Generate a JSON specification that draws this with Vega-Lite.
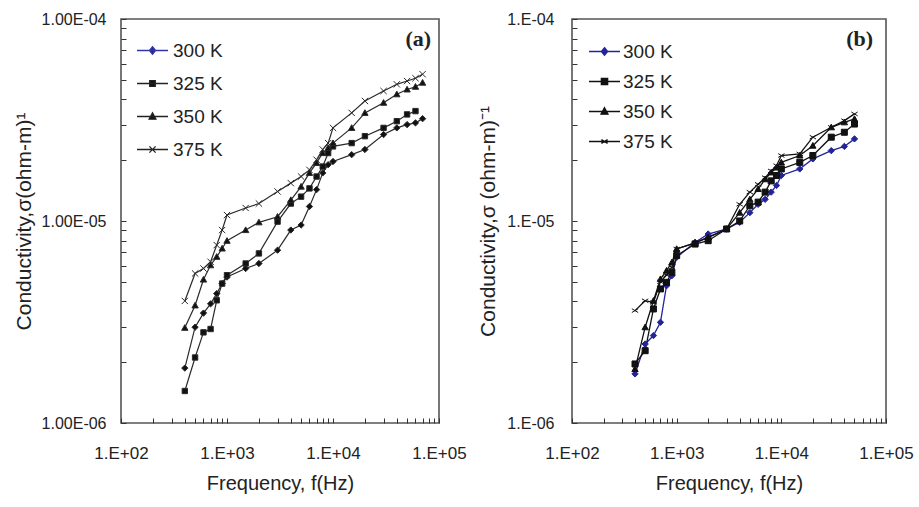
{
 "$schema": "https://vega.github.io/schema/vega-lite/v6.json",
 "background": "white",
 "padding": {"left": 12, "top": 10, "right": 5, "bottom": 5},
 "config": {
  "view": {"stroke": "#555", "strokeWidth": 1.6},
  "font": "Liberation Sans",
  "axis": {"grid": false, "domain": false, "tickSize": -5, "tickColor": "#333", "tickWidth": 1, "labelColor": "#222", "titleColor": "#222", "titleFontWeight": "normal", "labelFontSize": 16, "titleFontSize": 21, "labelOverlap": false, "labelFlush": false},
  "axisX": {"labelFontSize": 17, "titleFontSize": 20},
  "legend": {"padding": 0, "labelColor": "#222"}
 },
 "datasets": {
  "a": [
   {"f":400,"s":1.87e-6,"T":"300 K"},{"f":500,"s":2.98e-6,"T":"300 K"},{"f":600,"s":3.50e-6,"T":"300 K"},{"f":700,"s":3.89e-6,"T":"300 K"},{"f":800,"s":4.37e-6,"T":"300 K"},{"f":900,"s":4.90e-6,"T":"300 K"},{"f":1000,"s":5.28e-6,"T":"300 K"},{"f":1500,"s":5.82e-6,"T":"300 K"},{"f":2000,"s":6.16e-6,"T":"300 K"},{"f":3000,"s":7.17e-6,"T":"300 K"},{"f":4000,"s":9.02e-6,"T":"300 K"},{"f":5000,"s":9.55e-6,"T":"300 K"},{"f":6000,"s":1.18e-5,"T":"300 K"},{"f":7000,"s":1.43e-5,"T":"300 K"},{"f":8000,"s":1.73e-5,"T":"300 K"},{"f":9000,"s":1.90e-5,"T":"300 K"},{"f":10000,"s":1.97e-5,"T":"300 K"},{"f":15000,"s":2.13e-5,"T":"300 K"},{"f":20000,"s":2.26e-5,"T":"300 K"},{"f":30000,"s":2.68e-5,"T":"300 K"},{"f":40000,"s":2.89e-5,"T":"300 K"},{"f":50000,"s":3.00e-5,"T":"300 K"},{"f":60000,"s":3.06e-5,"T":"300 K"},{"f":70000,"s":3.21e-5,"T":"300 K"},
   {"f":400,"s":1.44e-6,"T":"325 K"},{"f":500,"s":2.11e-6,"T":"325 K"},{"f":600,"s":2.81e-6,"T":"325 K"},{"f":700,"s":2.92e-6,"T":"325 K"},{"f":800,"s":4.05e-6,"T":"325 K"},{"f":900,"s":4.90e-6,"T":"325 K"},{"f":1000,"s":5.39e-6,"T":"325 K"},{"f":1500,"s":6.16e-6,"T":"325 K"},{"f":2000,"s":6.91e-6,"T":"325 K"},{"f":3000,"s":9.93e-6,"T":"325 K"},{"f":4000,"s":1.22e-5,"T":"325 K"},{"f":5000,"s":1.32e-5,"T":"325 K"},{"f":6000,"s":1.45e-5,"T":"325 K"},{"f":7000,"s":1.66e-5,"T":"325 K"},{"f":8000,"s":1.86e-5,"T":"325 K"},{"f":9000,"s":2.17e-5,"T":"325 K"},{"f":10000,"s":2.34e-5,"T":"325 K"},{"f":15000,"s":2.43e-5,"T":"325 K"},{"f":20000,"s":2.63e-5,"T":"325 K"},{"f":30000,"s":2.89e-5,"T":"325 K"},{"f":40000,"s":3.12e-5,"T":"325 K"},{"f":50000,"s":3.37e-5,"T":"325 K"},{"f":60000,"s":3.50e-5,"T":"325 K"},
   {"f":400,"s":2.96e-6,"T":"350 K"},{"f":500,"s":3.82e-6,"T":"350 K"},{"f":600,"s":5.13e-6,"T":"350 K"},{"f":700,"s":6.04e-6,"T":"350 K"},{"f":800,"s":6.65e-6,"T":"350 K"},{"f":900,"s":7.31e-6,"T":"350 K"},{"f":1000,"s":7.98e-6,"T":"350 K"},{"f":1500,"s":9.02e-6,"T":"350 K"},{"f":2000,"s":9.85e-6,"T":"350 K"},{"f":3000,"s":1.05e-5,"T":"350 K"},{"f":4000,"s":1.27e-5,"T":"350 K"},{"f":5000,"s":1.48e-5,"T":"350 K"},{"f":6000,"s":1.73e-5,"T":"350 K"},{"f":7000,"s":1.94e-5,"T":"350 K"},{"f":8000,"s":2.17e-5,"T":"350 K"},{"f":9000,"s":2.30e-5,"T":"350 K"},{"f":10000,"s":2.43e-5,"T":"350 K"},{"f":15000,"s":2.89e-5,"T":"350 K"},{"f":20000,"s":3.43e-5,"T":"350 K"},{"f":30000,"s":3.85e-5,"T":"350 K"},{"f":40000,"s":4.24e-5,"T":"350 K"},{"f":50000,"s":4.48e-5,"T":"350 K"},{"f":60000,"s":4.62e-5,"T":"350 K"},{"f":70000,"s":4.84e-5,"T":"350 K"},
   {"f":400,"s":4.02e-6,"T":"375 K"},{"f":500,"s":5.50e-6,"T":"375 K"},{"f":600,"s":5.82e-6,"T":"375 K"},{"f":700,"s":6.28e-6,"T":"375 K"},{"f":800,"s":7.60e-6,"T":"375 K"},{"f":900,"s":9.02e-6,"T":"375 K"},{"f":1000,"s":1.07e-5,"T":"375 K"},{"f":1500,"s":1.16e-5,"T":"375 K"},{"f":2000,"s":1.22e-5,"T":"375 K"},{"f":3000,"s":1.40e-5,"T":"375 K"},{"f":4000,"s":1.54e-5,"T":"375 K"},{"f":5000,"s":1.66e-5,"T":"375 K"},{"f":6000,"s":1.79e-5,"T":"375 K"},{"f":7000,"s":2.01e-5,"T":"375 K"},{"f":8000,"s":2.26e-5,"T":"375 K"},{"f":9000,"s":2.43e-5,"T":"375 K"},{"f":10000,"s":2.89e-5,"T":"375 K"},{"f":15000,"s":3.43e-5,"T":"375 K"},{"f":20000,"s":3.93e-5,"T":"375 K"},{"f":30000,"s":4.40e-5,"T":"375 K"},{"f":40000,"s":4.75e-5,"T":"375 K"},{"f":50000,"s":4.93e-5,"T":"375 K"},{"f":60000,"s":5.09e-5,"T":"375 K"},{"f":70000,"s":5.33e-5,"T":"375 K"}
  ],
  "b": [
   {"f":400,"s":1.75e-6,"T":"300 K"},{"f":500,"s":2.46e-6,"T":"300 K"},{"f":600,"s":2.71e-6,"T":"300 K"},{"f":700,"s":3.15e-6,"T":"300 K"},{"f":800,"s":4.78e-6,"T":"300 K"},{"f":900,"s":5.36e-6,"T":"300 K"},{"f":1000,"s":6.61e-6,"T":"300 K"},{"f":1500,"s":7.84e-6,"T":"300 K"},{"f":2000,"s":8.62e-6,"T":"300 K"},{"f":3000,"s":9.13e-6,"T":"300 K"},{"f":4000,"s":9.85e-6,"T":"300 K"},{"f":5000,"s":1.10e-5,"T":"300 K"},{"f":6000,"s":1.21e-5,"T":"300 K"},{"f":7000,"s":1.28e-5,"T":"300 K"},{"f":8000,"s":1.39e-5,"T":"300 K"},{"f":9000,"s":1.50e-5,"T":"300 K"},{"f":10000,"s":1.68e-5,"T":"300 K"},{"f":15000,"s":1.81e-5,"T":"300 K"},{"f":20000,"s":2.03e-5,"T":"300 K"},{"f":30000,"s":2.23e-5,"T":"300 K"},{"f":40000,"s":2.34e-5,"T":"300 K"},{"f":50000,"s":2.55e-5,"T":"300 K"},
   {"f":400,"s":1.96e-6,"T":"325 K"},{"f":500,"s":2.28e-6,"T":"325 K"},{"f":600,"s":3.67e-6,"T":"325 K"},{"f":700,"s":4.61e-6,"T":"325 K"},{"f":800,"s":4.97e-6,"T":"325 K"},{"f":900,"s":5.57e-6,"T":"325 K"},{"f":1000,"s":6.74e-6,"T":"325 K"},{"f":1500,"s":7.69e-6,"T":"325 K"},{"f":2000,"s":7.99e-6,"T":"325 K"},{"f":3000,"s":9.13e-6,"T":"325 K"},{"f":4000,"s":1.00e-5,"T":"325 K"},{"f":5000,"s":1.19e-5,"T":"325 K"},{"f":6000,"s":1.24e-5,"T":"325 K"},{"f":7000,"s":1.39e-5,"T":"325 K"},{"f":8000,"s":1.58e-5,"T":"325 K"},{"f":9000,"s":1.68e-5,"T":"325 K"},{"f":10000,"s":1.81e-5,"T":"325 K"},{"f":15000,"s":1.95e-5,"T":"325 K"},{"f":20000,"s":2.11e-5,"T":"325 K"},{"f":30000,"s":2.60e-5,"T":"325 K"},{"f":40000,"s":2.75e-5,"T":"325 K"},{"f":50000,"s":3.02e-5,"T":"325 K"},
   {"f":400,"s":1.85e-6,"T":"350 K"},{"f":500,"s":2.98e-6,"T":"350 K"},{"f":600,"s":4.03e-6,"T":"350 K"},{"f":700,"s":5.16e-6,"T":"350 K"},{"f":800,"s":5.68e-6,"T":"350 K"},{"f":900,"s":6.24e-6,"T":"350 K"},{"f":1000,"s":7.27e-6,"T":"350 K"},{"f":1500,"s":7.80e-6,"T":"350 K"},{"f":2000,"s":8.30e-6,"T":"350 K"},{"f":3000,"s":9.13e-6,"T":"350 K"},{"f":4000,"s":1.10e-5,"T":"350 K"},{"f":5000,"s":1.28e-5,"T":"350 K"},{"f":6000,"s":1.44e-5,"T":"350 K"},{"f":7000,"s":1.61e-5,"T":"350 K"},{"f":8000,"s":1.74e-5,"T":"350 K"},{"f":9000,"s":1.84e-5,"T":"350 K"},{"f":10000,"s":1.95e-5,"T":"350 K"},{"f":15000,"s":2.11e-5,"T":"350 K"},{"f":20000,"s":2.36e-5,"T":"350 K"},{"f":30000,"s":2.91e-5,"T":"350 K"},{"f":40000,"s":3.08e-5,"T":"350 K"},{"f":50000,"s":3.20e-5,"T":"350 K"},
   {"f":400,"s":3.60e-6,"T":"375 K"},{"f":500,"s":4.03e-6,"T":"375 K"},{"f":600,"s":3.95e-6,"T":"375 K"},{"f":700,"s":5.00e-6,"T":"375 K"},{"f":800,"s":5.40e-6,"T":"375 K"},{"f":900,"s":5.90e-6,"T":"375 K"},{"f":1000,"s":7.27e-6,"T":"375 K"},{"f":1500,"s":7.80e-6,"T":"375 K"},{"f":2000,"s":8.30e-6,"T":"375 K"},{"f":3000,"s":9.13e-6,"T":"375 K"},{"f":4000,"s":1.21e-5,"T":"375 K"},{"f":5000,"s":1.39e-5,"T":"375 K"},{"f":6000,"s":1.52e-5,"T":"375 K"},{"f":7000,"s":1.64e-5,"T":"375 K"},{"f":8000,"s":1.77e-5,"T":"375 K"},{"f":9000,"s":1.88e-5,"T":"375 K"},{"f":10000,"s":2.11e-5,"T":"375 K"},{"f":15000,"s":2.15e-5,"T":"375 K"},{"f":20000,"s":2.60e-5,"T":"375 K"},{"f":30000,"s":2.91e-5,"T":"375 K"},{"f":40000,"s":3.14e-5,"T":"375 K"},{"f":50000,"s":3.39e-5,"T":"375 K"}
  ]
 },
 "bounds": "flush",
 "spacing": 133,
 "resolve": {"scale": {"shape": "independent", "fill": "independent", "stroke": "independent", "x": "independent", "y": "independent"}, "legend": {"shape": "independent", "fill": "independent", "stroke": "independent"}},
 "hconcat": [
  {
   "width": 318, "height": 404,
   "data": {"name": "a"},
   "title": {"text": "(a)", "anchor": "end", "font": "Liberation Serif", "fontWeight": "bold", "fontSize": 22, "color": "#222", "offset": -40, "dx": -35},
   "encoding": {
    "x": {"field": "f", "type": "quantitative", "scale": {"type": "log", "domain": [100, 100000]},
          "axis": {"title": "Frequency, f(Hz)", "values": [100,200,300,400,500,600,700,800,900,1000,2000,3000,4000,5000,6000,7000,8000,9000,10000,20000,30000,40000,50000,60000,70000,80000,90000,100000],
                   "labelExpr": "datum.value == 100 ? '1.E+02' : datum.value == 1000 ? '1.E+03' : datum.value == 10000 ? '1.E+04' : datum.value == 100000 ? '1.E+05' : ''",
                   "labelPadding": 27, "titlePadding": 12}},
    "y": {"field": "s", "type": "quantitative", "scale": {"type": "log", "domain": [1e-6, 1e-4]},
          "axis": {"title": "Conductivity,σ(ohm-m)¹", "values": [1e-6,2e-6,3e-6,4e-6,5e-6,6e-6,7e-6,8e-6,9e-6,1e-5,2e-5,3e-5,4e-5,5e-5,6e-5,7e-5,8e-5,9e-5,1e-4],
                   "labelExpr": "datum.value == 1e-4 ? '1.00E-04' : datum.value == 1e-5 ? '1.00E-05' : datum.value == 1e-6 ? '1.00E-06' : ''",
                   "labelPadding": 20, "titlePadding": 7}}
   },
   "resolve": {"scale": {"shape": "independent", "fill": "independent", "stroke": "independent"}, "legend": {"shape": "independent", "fill": "independent", "stroke": "independent"}},
   "layer": [
    {"mark": {"type": "line", "strokeWidth": 1.2},
     "encoding": {"stroke": {"field": "T", "type": "nominal", "scale": {"domain": ["375 K","350 K","325 K","300 K"], "range": ["#2a2a2a","#2a2a2a","#2a2a2a","#2a2a2a"]}, "legend": null}}},
    {"mark": {"type": "point", "filled": true, "size": 40, "strokeWidth": 1, "opacity": 1},
     "encoding": {
      "fill": {"field": "T", "type": "nominal", "scale": {"domain": ["375 K","350 K","300 K","325 K"], "range": ["#111","#111","#111","#111"]}, "legend": null},
      "stroke": {"field": "T", "type": "nominal", "scale": {"domain": ["375 K","350 K","325 K","300 K"], "range": ["#2a2a2a","#2a2a2a","#2a2a2a","#2a2a2a"]}, "legend": null},
      "shape": {"field": "T", "type": "nominal", "legend": null,
                "scale": {"domain": ["300 K","325 K","350 K","375 K"], "range": ["M0,-1L1,0L0,1L-1,0Z","M-0.85,-0.85H0.85V0.85H-0.85Z","M0,-1L1,0.8H-1Z","M-1,-1L1,1M-1,1L1,-1"]}}
     }},
    {"transform": [{"filter": "datum.f < 0"}],
     "mark": {"type": "point", "filled": true, "opacity": 1},
     "encoding": {
      "shape": {"field": "T", "type": "nominal",
                "scale": {"domain": ["300 K","325 K","350 K","375 K"], "range": ["M-1,0H1M0,-0.24L0.2,0L0,0.24L-0.2,0Z","M-1,0H1M-0.18,-0.18H0.18V0.18H-0.18Z","M-1,0H1M0,-0.24L0.22,0.17H-0.22Z","M-1,0H1M-0.2,-0.2L0.2,0.2M-0.2,0.2L0.2,-0.2"]},
                "legend": {"title": null, "orient": "top-left", "offset": 15, "symbolSize": 961, "symbolStrokeWidth": 1.3, "symbolOpacity": 1, "labelFontSize": 19, "labelOffset": 4, "rowPadding": 6, "labelFont": "Liberation Sans"}},
      "fill": {"field": "T", "type": "nominal",
               "scale": {"domain": ["300 K","325 K","350 K","375 K"], "range": ["#23239a","#111","#111","#111"]},
               "legend": {"title": null, "orient": "top-left", "offset": 15, "symbolSize": 961, "symbolStrokeWidth": 1.3, "symbolOpacity": 1, "labelFontSize": 19, "labelOffset": 4, "rowPadding": 6, "labelFont": "Liberation Sans"}},
      "stroke": {"field": "T", "type": "nominal",
               "scale": {"domain": ["300 K","325 K","350 K","375 K"], "range": ["#3535a8","#222","#222","#222"]},
               "legend": {"title": null, "orient": "top-left", "offset": 15, "symbolSize": 961, "symbolStrokeWidth": 1.3, "symbolOpacity": 1, "labelFontSize": 19, "labelOffset": 4, "rowPadding": 6, "labelFont": "Liberation Sans"}}
     }}
   ]
  },
  {
   "width": 314, "height": 404,
   "data": {"name": "b"},
   "title": {"text": "(b)", "anchor": "end", "font": "Liberation Serif", "fontWeight": "bold", "fontSize": 22, "color": "#222", "offset": -40, "dx": -40},
   "encoding": {
    "x": {"field": "f", "type": "quantitative", "scale": {"type": "log", "domain": [100, 100000]},
          "axis": {"title": "Frequency, f(Hz)", "values": [100,200,300,400,500,600,700,800,900,1000,2000,3000,4000,5000,6000,7000,8000,9000,10000,20000,30000,40000,50000,60000,70000,80000,90000,100000],
                   "labelExpr": "datum.value == 100 ? '1.E+02' : datum.value == 1000 ? '1.E+03' : datum.value == 10000 ? '1.E+04' : datum.value == 100000 ? '1.E+05' : ''",
                   "labelPadding": 27, "titlePadding": 12}},
    "y": {"field": "s", "type": "quantitative", "scale": {"type": "log", "domain": [1e-6, 1e-4]},
          "axis": {"title": "Conductivity,σ (ohm-m)⁻¹", "values": [1e-6,2e-6,3e-6,4e-6,5e-6,6e-6,7e-6,8e-6,9e-6,1e-5,2e-5,3e-5,4e-5,5e-5,6e-5,7e-5,8e-5,9e-5,1e-4],
                   "labelExpr": "datum.value == 1e-4 ? '1.E-04' : datum.value == 1e-5 ? '1.E-05' : datum.value == 1e-6 ? '1.E-06' : ''",
                   "labelPadding": 23, "titlePadding": 8}}
   },
   "resolve": {"scale": {"shape": "independent", "fill": "independent", "stroke": "independent"}, "legend": {"shape": "independent", "fill": "independent", "stroke": "independent"}},
   "layer": [
    {"mark": {"type": "line", "strokeWidth": 1.3},
     "encoding": {"stroke": {"field": "T", "type": "nominal", "scale": {"domain": ["375 K","350 K","325 K","300 K"], "range": ["#111","#111","#111","#23239a"]}, "legend": null}}},
    {"mark": {"type": "point", "filled": true, "size": 40, "strokeWidth": 1, "opacity": 1},
     "encoding": {
      "fill": {"field": "T", "type": "nominal", "scale": {"domain": ["375 K","350 K","300 K","325 K"], "range": ["#111","#111","#23239a","#111"]}, "legend": null},
      "stroke": {"field": "T", "type": "nominal", "scale": {"domain": ["375 K","350 K","325 K","300 K"], "range": ["#111","#111","#111","#23239a"]}, "legend": null},
      "shape": {"field": "T", "type": "nominal", "legend": null,
                "scale": {"domain": ["300 K","325 K","350 K","375 K"], "range": ["M0,-1L1,0L0,1L-1,0Z","M-0.95,-0.95H0.95V0.95H-0.95Z","M0,-1L1,0.8H-1Z","M-1,-0.6L1,0.6M-1,0.6L1,-0.6"]}}
     }},
    {"transform": [{"filter": "datum.f < 0"}],
     "mark": {"type": "point", "filled": true, "opacity": 1},
     "encoding": {
      "shape": {"field": "T", "type": "nominal",
                "scale": {"domain": ["300 K","325 K","350 K","375 K"], "range": ["M-1,0H1M0,-0.24L0.2,0L0,0.24L-0.2,0Z","M-1,0H1M-0.2,-0.2H0.2V0.2H-0.2Z","M-1,0H1M0,-0.24L0.22,0.17H-0.22Z","M-1,0H1M-0.2,-0.12L0.2,0.12M-0.2,0.12L0.2,-0.12"]},
                "legend": {"title": null, "orient": "top-left", "offset": 16, "symbolSize": 961, "symbolStrokeWidth": 1.4, "symbolOpacity": 1, "labelFontSize": 19, "labelOffset": 2, "rowPadding": 3, "labelFont": "Liberation Sans"}},
      "fill": {"field": "T", "type": "nominal",
               "scale": {"domain": ["300 K","325 K","350 K","375 K"], "range": ["#23239a","#111","#111","#111"]},
               "legend": {"title": null, "orient": "top-left", "offset": 16, "symbolSize": 961, "symbolStrokeWidth": 1.4, "symbolOpacity": 1, "labelFontSize": 19, "labelOffset": 2, "rowPadding": 3, "labelFont": "Liberation Sans"}},
      "stroke": {"field": "T", "type": "nominal",
               "scale": {"domain": ["300 K","325 K","350 K","375 K"], "range": ["#23239a","#111","#111","#111"]},
               "legend": {"title": null, "orient": "top-left", "offset": 16, "symbolSize": 961, "symbolStrokeWidth": 1.4, "symbolOpacity": 1, "labelFontSize": 19, "labelOffset": 2, "rowPadding": 3, "labelFont": "Liberation Sans"}}
     }}
   ]
  }
 ]
}
